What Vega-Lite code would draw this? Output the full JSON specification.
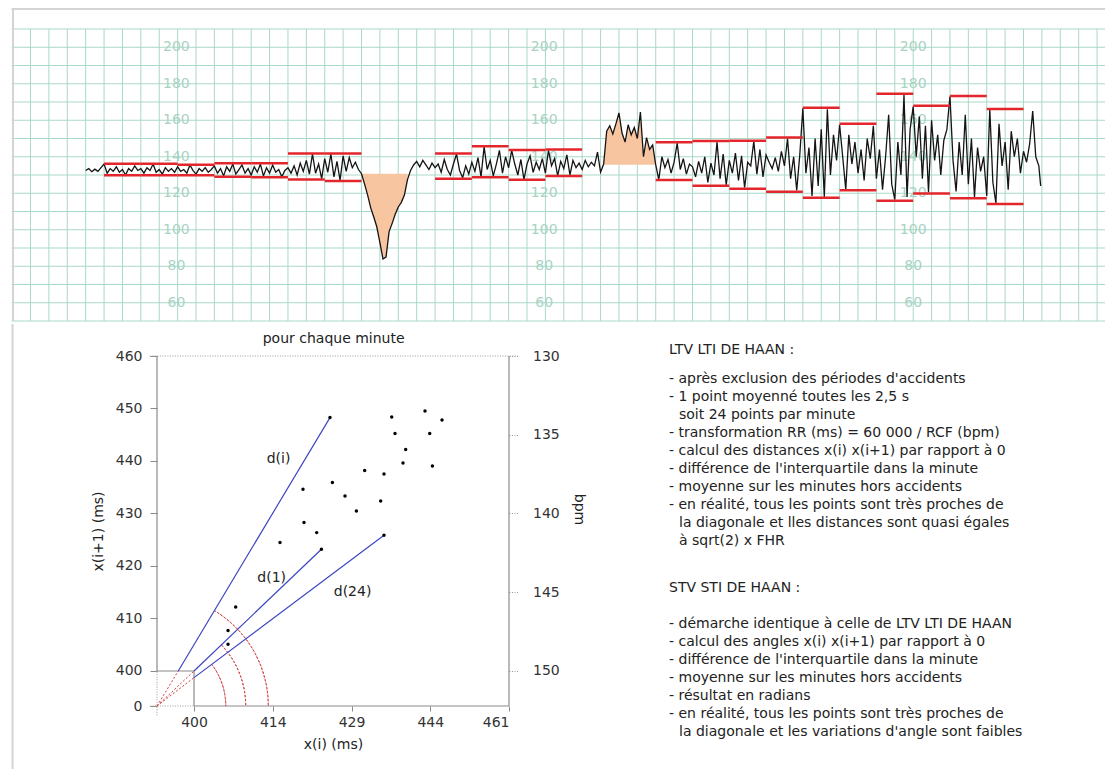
{
  "$schema": "https://vega.github.io/schema/vega-lite/v6.json",
  "background": "white",
  "padding": {"left": 10, "top": 7, "right": 0, "bottom": 0},
  "config": {
    "view": {"stroke": null},
    "text": {"font": "DejaVu Sans"},
    "axis": {"labelFont": "DejaVu Sans", "titleFont": "DejaVu Sans"}
  },
  "datasets": {
    "vgrid": [{"t":30},{"t":60},{"t":90},{"t":120},{"t":150},{"t":180},{"t":210},{"t":240},{"t":270},{"t":300},{"t":330},{"t":360},{"t":390},{"t":420},{"t":450},{"t":480},{"t":510},{"t":540},{"t":570},{"t":600},{"t":630},{"t":660},{"t":690},{"t":720},{"t":750},{"t":780},{"t":810},{"t":840},{"t":870},{"t":900},{"t":930},{"t":960},{"t":990},{"t":1020},{"t":1050},{"t":1080},{"t":1110},{"t":1140},{"t":1170},{"t":1200},{"t":1230},{"t":1260},{"t":1290},{"t":1320},{"t":1350},{"t":1380},{"t":1410},{"t":1440},{"t":1470},{"t":1500},{"t":1530},{"t":1560},{"t":1590},{"t":1620},{"t":1650},{"t":1680},{"t":1710},{"t":1740},{"t":1770}],
    "hgrid": [{"v":50},{"v":60},{"v":70},{"v":80},{"v":90},{"v":100},{"v":110},{"v":120},{"v":130},{"v":140},{"v":150},{"v":160},{"v":170},{"v":180},{"v":190},{"v":200},{"v":210}],
    "glabels": [
      {"t":268,"v":60},{"t":268,"v":80},{"t":268,"v":100},{"t":268,"v":120},{"t":268,"v":140},{"t":268,"v":160},{"t":268,"v":180},{"t":268,"v":200},
      {"t":868,"v":60},{"t":868,"v":80},{"t":868,"v":100},{"t":868,"v":120},{"t":868,"v":140},{"t":868,"v":160},{"t":868,"v":180},{"t":868,"v":200},
      {"t":1470,"v":60},{"t":1470,"v":80},{"t":1470,"v":100},{"t":1470,"v":120},{"t":1470,"v":140},{"t":1470,"v":160},{"t":1470,"v":180},{"t":1470,"v":200}
    ],
    "trace": [
      {"t":120,"v":132.5},{"t":125,"v":133.5},{"t":130,"v":131.8},{"t":135,"v":133.2},{"t":140,"v":132.0},{"t":145,"v":134.0},
      {"t":150,"v":136.0},{"t":155,"v":131.0},{"t":160,"v":133.5},{"t":165,"v":132.0},{"t":170,"v":134.5},{"t":175,"v":131.5},{"t":180,"v":133.0},{"t":185,"v":130.0},{"t":190,"v":133.5},{"t":195,"v":132.0},{"t":200,"v":135.0},{"t":205,"v":132.5},
      {"t":210,"v":133.5},{"t":215,"v":131.0},{"t":220,"v":134.0},{"t":225,"v":132.5},{"t":230,"v":136.0},{"t":235,"v":131.5},{"t":240,"v":133.0},{"t":245,"v":130.5},{"t":250,"v":134.0},{"t":255,"v":132.0},{"t":260,"v":133.5},{"t":265,"v":131.5},
      {"t":270,"v":134.5},{"t":275,"v":132.0},{"t":280,"v":133.0},{"t":285,"v":131.0},{"t":290,"v":135.5},{"t":295,"v":132.5},{"t":300,"v":130.5},{"t":305,"v":133.5},{"t":310,"v":132.0},{"t":315,"v":134.0},{"t":320,"v":131.5},{"t":325,"v":133.0},
      {"t":330,"v":135.0},{"t":335,"v":131.0},{"t":340,"v":133.5},{"t":345,"v":129.5},{"t":350,"v":134.5},{"t":355,"v":132.0},{"t":360,"v":136.0},{"t":365,"v":130.5},{"t":370,"v":133.0},{"t":375,"v":135.5},{"t":380,"v":131.0},{"t":385,"v":133.5},
      {"t":390,"v":130.0},{"t":395,"v":134.5},{"t":400,"v":131.5},{"t":405,"v":136.0},{"t":410,"v":129.5},{"t":415,"v":134.0},{"t":420,"v":131.0},{"t":425,"v":135.5},{"t":430,"v":131.5},{"t":435,"v":133.0},{"t":440,"v":129.0},{"t":445,"v":132.5},
      {"t":450,"v":134.0},{"t":455,"v":131.0},{"t":460,"v":135.0},{"t":465,"v":130.0},{"t":470,"v":136.5},{"t":475,"v":132.0},{"t":480,"v":138.0},{"t":485,"v":130.5},{"t":490,"v":141.5},{"t":495,"v":131.0},{"t":500,"v":136.0},{"t":505,"v":128.0},
      {"t":510,"v":139.0},{"t":515,"v":131.5},{"t":520,"v":141.5},{"t":525,"v":129.0},{"t":530,"v":137.5},{"t":535,"v":127.0},{"t":540,"v":140.5},{"t":545,"v":132.0},{"t":550,"v":139.5},{"t":555,"v":134.0},{"t":560,"v":137.0},{"t":565,"v":133.0},
      {"t":570,"v":130.7},{"t":575,"v":125.0},{"t":580,"v":119.0},{"t":585,"v":112.0},{"t":590,"v":107.0},{"t":595,"v":101.5},{"t":600,"v":93.0},{"t":605,"v":84.0},{"t":610,"v":85.0},{"t":615,"v":99.0},{"t":620,"v":103.5},{"t":625,"v":108.5},{"t":630,"v":112.5},{"t":635,"v":115.0},{"t":640,"v":119.0},{"t":645,"v":127.5},{"t":650,"v":132.5},{"t":655,"v":135.5},
      {"t":660,"v":137.5},{"t":665,"v":134.5},{"t":670,"v":138.0},{"t":675,"v":135.5},{"t":680,"v":133.0},{"t":685,"v":136.5},
      {"t":690,"v":134.0},{"t":695,"v":136.0},{"t":700,"v":131.5},{"t":705,"v":138.5},{"t":710,"v":133.0},{"t":715,"v":130.0},{"t":720,"v":136.0},{"t":725,"v":141.5},{"t":730,"v":132.5},{"t":735,"v":128.5},{"t":740,"v":135.0},{"t":745,"v":130.5},
      {"t":750,"v":137.0},{"t":755,"v":132.0},{"t":760,"v":139.5},{"t":765,"v":129.0},{"t":770,"v":145.5},{"t":775,"v":133.0},{"t":780,"v":138.0},{"t":785,"v":129.5},{"t":790,"v":136.0},{"t":795,"v":143.5},{"t":800,"v":131.0},{"t":805,"v":140.0},
      {"t":810,"v":134.0},{"t":815,"v":143.5},{"t":820,"v":136.0},{"t":825,"v":130.0},{"t":830,"v":138.5},{"t":835,"v":127.5},{"t":840,"v":136.0},{"t":845,"v":140.5},{"t":850,"v":131.5},{"t":855,"v":137.0},{"t":860,"v":133.0},{"t":865,"v":139.0},
      {"t":870,"v":131.0},{"t":875,"v":143.5},{"t":880,"v":135.0},{"t":885,"v":139.0},{"t":890,"v":129.5},{"t":895,"v":137.5},{"t":900,"v":133.5},{"t":905,"v":141.0},{"t":910,"v":130.0},{"t":915,"v":138.0},{"t":920,"v":134.0},{"t":925,"v":136.5},
      {"t":930,"v":133.0},{"t":935,"v":138.0},{"t":940,"v":134.5},{"t":945,"v":137.0},{"t":950,"v":135.0},{"t":955,"v":142.5},{"t":960,"v":131.5},{"t":965,"v":136.0},
      {"t":970,"v":154.0},{"t":975,"v":157.0},{"t":980,"v":152.5},{"t":985,"v":158.0},{"t":990,"v":164.0},{"t":995,"v":153.0},{"t":1000,"v":148.0},{"t":1005,"v":157.5},{"t":1010,"v":152.0},{"t":1015,"v":156.0},{"t":1020,"v":150.0},{"t":1025,"v":164.5},{"t":1030,"v":140.0},{"t":1035,"v":150.5},{"t":1040,"v":144.0},{"t":1045,"v":146.5},
      {"t":1050,"v":135.5},{"t":1055,"v":127.5},{"t":1060,"v":140.0},{"t":1065,"v":134.0},{"t":1070,"v":138.5},{"t":1075,"v":131.0},{"t":1080,"v":137.0},{"t":1085,"v":147.5},{"t":1090,"v":133.0},{"t":1095,"v":139.0},{"t":1100,"v":130.5},{"t":1105,"v":136.0},
      {"t":1110,"v":134.5},{"t":1115,"v":129.0},{"t":1120,"v":137.5},{"t":1125,"v":131.0},{"t":1130,"v":140.0},{"t":1135,"v":126.0},{"t":1140,"v":136.5},{"t":1145,"v":130.0},{"t":1150,"v":148.0},{"t":1155,"v":128.0},{"t":1160,"v":141.5},{"t":1165,"v":124.5},
      {"t":1170,"v":138.0},{"t":1175,"v":131.0},{"t":1180,"v":142.0},{"t":1185,"v":127.0},{"t":1190,"v":140.5},{"t":1195,"v":123.0},{"t":1200,"v":137.0},{"t":1205,"v":135.0},{"t":1210,"v":148.5},{"t":1215,"v":130.5},{"t":1220,"v":144.0},{"t":1225,"v":129.0},
      {"t":1230,"v":141.0},{"t":1235,"v":137.0},{"t":1240,"v":133.5},{"t":1245,"v":139.5},{"t":1250,"v":132.0},{"t":1255,"v":143.0},{"t":1260,"v":135.0},{"t":1265,"v":150.0},{"t":1270,"v":128.0},{"t":1275,"v":140.0},{"t":1280,"v":121.5},{"t":1285,"v":141.0},
      {"t":1290,"v":166.5},{"t":1295,"v":131.0},{"t":1300,"v":145.0},{"t":1305,"v":118.5},{"t":1310,"v":150.0},{"t":1315,"v":124.0},{"t":1320,"v":155.0},{"t":1325,"v":118.0},{"t":1330,"v":166.0},{"t":1335,"v":130.0},{"t":1340,"v":152.0},{"t":1345,"v":138.0},
      {"t":1350,"v":157.5},{"t":1355,"v":140.0},{"t":1360,"v":122.0},{"t":1365,"v":152.0},{"t":1370,"v":136.0},{"t":1375,"v":148.0},{"t":1380,"v":131.0},{"t":1385,"v":144.0},{"t":1390,"v":127.0},{"t":1395,"v":150.0},{"t":1400,"v":139.0},{"t":1405,"v":157.0},
      {"t":1410,"v":128.0},{"t":1415,"v":144.0},{"t":1420,"v":122.0},{"t":1425,"v":140.0},{"t":1430,"v":163.0},{"t":1435,"v":125.0},{"t":1440,"v":116.5},{"t":1445,"v":148.0},{"t":1450,"v":130.0},{"t":1455,"v":174.0},{"t":1460,"v":118.0},{"t":1465,"v":155.0},
      {"t":1470,"v":167.5},{"t":1475,"v":140.0},{"t":1480,"v":162.0},{"t":1485,"v":128.0},{"t":1490,"v":157.0},{"t":1495,"v":120.5},{"t":1500,"v":160.0},{"t":1505,"v":138.0},{"t":1510,"v":152.0},{"t":1515,"v":130.0},{"t":1520,"v":149.0},{"t":1525,"v":155.0},
      {"t":1530,"v":173.0},{"t":1535,"v":138.0},{"t":1540,"v":121.0},{"t":1545,"v":148.0},{"t":1550,"v":130.0},{"t":1555,"v":163.0},{"t":1560,"v":125.0},{"t":1565,"v":150.0},{"t":1570,"v":118.0},{"t":1575,"v":145.0},{"t":1580,"v":132.0},{"t":1585,"v":140.0},
      {"t":1590,"v":118.5},{"t":1595,"v":166.0},{"t":1600,"v":126.0},{"t":1605,"v":114.5},{"t":1610,"v":158.0},{"t":1615,"v":135.0},{"t":1620,"v":148.0},{"t":1625,"v":122.0},{"t":1630,"v":154.0},{"t":1635,"v":140.0},{"t":1640,"v":150.0},{"t":1645,"v":131.0},
      {"t":1650,"v":143.0},{"t":1655,"v":137.0},{"t":1660,"v":147.0},{"t":1665,"v":165.0},{"t":1670,"v":140.0},{"t":1675,"v":135.0},{"t":1678,"v":124.0}
    ],
    "minutes": [
      {"t0":150,"t1":210,"hi":136.2,"lo":129.8},{"t0":210,"t1":270,"hi":136.2,"lo":129.8},{"t0":270,"t1":330,"hi":135.6,"lo":129.8},{"t0":330,"t1":390,"hi":136.4,"lo":129.1},{"t0":390,"t1":450,"hi":136.4,"lo":128.7},{"t0":450,"t1":510,"hi":141.8,"lo":127.6},{"t0":510,"t1":570,"hi":141.8,"lo":126.7},
      {"t0":690,"t1":750,"hi":141.8,"lo":128.0},{"t0":750,"t1":810,"hi":145.7,"lo":128.7},{"t0":810,"t1":870,"hi":143.7,"lo":127.4},{"t0":870,"t1":930,"hi":144.0,"lo":129.4},
      {"t0":1050,"t1":1110,"hi":147.9,"lo":127.2},{"t0":1110,"t1":1170,"hi":148.6,"lo":124.1},{"t0":1170,"t1":1230,"hi":148.8,"lo":122.5},{"t0":1230,"t1":1290,"hi":150.6,"lo":120.8},{"t0":1290,"t1":1350,"hi":166.9,"lo":117.6},{"t0":1350,"t1":1410,"hi":158.1,"lo":121.6},{"t0":1410,"t1":1470,"hi":174.5,"lo":115.9},{"t0":1470,"t1":1530,"hi":168.0,"lo":119.9},{"t0":1530,"t1":1590,"hi":173.3,"lo":117.2},{"t0":1590,"t1":1650,"hi":166.2,"lo":114.1}
    ],
    "frame": [
      {"t0":-1,"t1":1786.2,"v0":220.96,"v1":220.96},
      {"t0":1.45,"t1":1.45,"v0":220.96,"v1":50}
    ],
    "points": [
      {"x":425.90,"y":448.27},{"x":437.66,"y":448.38},{"x":444.00,"y":449.52},{"x":447.24,"y":447.81},{"x":438.29,"y":445.22},{"x":444.90,"y":445.22},{"x":440.32,"y":442.17},{"x":439.81,"y":439.62},{"x":445.41,"y":439.05},{"x":432.51,"y":438.17},{"x":436.19,"y":437.52},{"x":426.36,"y":435.89},{"x":420.76,"y":434.61},{"x":428.76,"y":433.33},{"x":435.56,"y":432.38},{"x":430.93,"y":430.48},{"x":420.95,"y":428.27},{"x":423.37,"y":426.36},{"x":436.19,"y":425.85},{"x":416.38,"y":424.46},{"x":424.27,"y":423.18},{"x":407.94,"y":412.19},{"x":406.48,"y":407.70},{"x":406.48,"y":405.09}
    ],
    "dlines": [
      {"x":397.0,"y":400.0,"x2":425.90,"y2":448.27},
      {"x":400.0,"y":400.0,"x2":424.27,"y2":423.18},
      {"x":400.0,"y":398.74,"x2":436.19,"y2":425.85}
    ],
    "rays": [
      {"x":392.95,"y":393.333,"x2":397.0,"y2":400.0},
      {"x":392.95,"y":393.333,"x2":400.0,"y2":400.0},
      {"x":392.95,"y":393.333,"x2":400.0,"y2":398.74}
    ],
    "arcs": [
      {"x":392.95,"y":393.333,"r":13.1,"a0":0.925,"a1":1.5708},
      {"x":392.95,"y":393.333,"r":16.9,"a0":0.812,"a1":1.5708},
      {"x":392.95,"y":393.333,"r":21.2,"a0":0.541,"a1":1.5708}
    ],
    "solidAxes": [
      {"x":392.95,"y":400,"x2":392.95,"y2":460},
      {"x":392.95,"y":400,"x2":400,"y2":400},
      {"x":400,"y":393.333,"x2":400,"y2":400},
      {"x":400,"y":393.333,"x2":460,"y2":393.333},
      {"x":460,"y":393.333,"x2":460,"y2":460}
    ],
    "dottedAxes": [
      {"x":391.6,"y":460,"x2":461.7,"y2":460},
      {"x":392.95,"y":391.56,"x2":392.95,"y2":400},
      {"x":391.6,"y":393.333,"x2":400,"y2":393.333}
    ],
    "frame2": [{"x":365.43,"y":466.1,"x2":365.43,"y2":381.27}],
    "slabels": [
      {"x":416.1,"y":440.3,"label":"d(i)"},
      {"x":414.8,"y":417.7,"label":"d(1)"},
      {"x":430.2,"y":415.0,"label":"d(24)"},
      {"x":426.6,"y":463.2,"label":"pour chaque minute"}
    ],
    "notes": [
      {"col":0,"indent":false,"line":-1.63,"text":"LTV LTI DE HAAN :"},
      {"col":0,"indent":false,"line":0,"text":"- après exclusion des périodes d'accidents"},
      {"col":0,"indent":false,"line":1,"text":"- 1 point moyenné toutes les 2,5 s"},
      {"col":0,"indent":true,"line":2,"text":"soit 24 points par minute"},
      {"col":0,"indent":false,"line":3,"text":"- transformation RR (ms) = 60 000 / RCF (bpm)"},
      {"col":0,"indent":false,"line":4,"text":"- calcul des distances x(i) x(i+1) par rapport à 0"},
      {"col":0,"indent":false,"line":5,"text":"- différence de l'interquartile dans la minute"},
      {"col":0,"indent":false,"line":6,"text":"- moyenne sur les minutes hors accidents"},
      {"col":0,"indent":false,"line":7,"text":"- en réalité, tous les points sont très proches de"},
      {"col":0,"indent":true,"line":8,"text":"la diagonale et lles distances sont quasi égales"},
      {"col":0,"indent":true,"line":9,"text":"à sqrt(2) x FHR"},
      {"col":0,"indent":false,"line":11.58,"text":"STV STI DE HAAN :"},
      {"col":0,"indent":false,"line":13.58,"text":"- démarche identique à celle de LTV LTI DE HAAN"},
      {"col":0,"indent":false,"line":14.58,"text":"- calcul des angles x(i) x(i+1) par rapport à 0"},
      {"col":0,"indent":false,"line":15.58,"text":"- différence de l'interquartile dans la minute"},
      {"col":0,"indent":false,"line":16.58,"text":"- moyenne sur les minutes hors accidents"},
      {"col":0,"indent":false,"line":17.58,"text":"- résultat en radians"},
      {"col":0,"indent":false,"line":18.58,"text":"- en réalité, tous les points sont très proches de"},
      {"col":0,"indent":true,"line":19.58,"text":"la diagonale et les variations d'angle sont faibles"}
    ]
  },
  "spacing": 0,
  "vconcat": [
    {
      "width": 950,
      "height": 292,
      "layer": [
        {
          "data": {"name": "vgrid"},
          "mark": {"type": "rule", "color": "#a9d9c7", "strokeWidth": 1},
          "encoding": {
            "x": {"field": "t", "type": "quantitative", "scale": {"domain": [236.36, 1786.2], "nice": false, "zero": false}, "axis": null}
          }
        },
        {
          "data": {"name": "hgrid"},
          "mark": {"type": "rule", "color": "#a9d9c7", "strokeWidth": 1},
          "encoding": {
            "x": {"datum": -1, "type": "quantitative", "axis": null},
            "x2": {"datum": 1786.2},
            "y": {"field": "v", "type": "quantitative", "scale": {"domain": [50, 210], "nice": false, "zero": false}, "axis": null}
          }
        },
        {
          "data": {"name": "glabels"},
          "mark": {"type": "text", "fontSize": 14, "font": "DejaVu Sans", "color": "#a8d3c1", "align": "center", "baseline": "middle"},
          "encoding": {
            "x": {"field": "t", "type": "quantitative", "axis": null},
            "y": {"field": "v", "type": "quantitative", "axis": null},
            "text": {"field": "v", "type": "quantitative"}
          }
        },
        {
          "data": {"name": "trace"},
          "transform": [{"filter": "datum.t >= 570 && datum.t <= 647"}],
          "mark": {"type": "area", "color": "#f8c5a1", "opacity": 1},
          "encoding": {
            "x": {"field": "t", "type": "quantitative", "axis": null},
            "y": {"field": "v", "type": "quantitative", "axis": null},
            "y2": {"datum": 130.7}
          }
        },
        {
          "data": {"name": "trace"},
          "transform": [{"filter": "datum.t >= 965 && datum.t <= 1050"}],
          "mark": {"type": "area", "color": "#f8c5a1", "opacity": 1},
          "encoding": {
            "x": {"field": "t", "type": "quantitative", "axis": null},
            "y": {"field": "v", "type": "quantitative", "axis": null},
            "y2": {"datum": 135.6}
          }
        },
        {
          "data": {"name": "trace"},
          "mark": {"type": "line", "color": "#141414", "strokeWidth": 1.3},
          "encoding": {
            "x": {"field": "t", "type": "quantitative", "axis": null},
            "y": {"field": "v", "type": "quantitative", "axis": null}
          }
        },
        {
          "data": {"name": "minutes"},
          "mark": {"type": "rule", "color": "#e3262c", "strokeWidth": 2.5},
          "encoding": {
            "x": {"field": "t0", "type": "quantitative", "axis": null},
            "x2": {"field": "t1"},
            "y": {"field": "hi", "type": "quantitative", "axis": null}
          }
        },
        {
          "data": {"name": "minutes"},
          "mark": {"type": "rule", "color": "#e3262c", "strokeWidth": 2.5},
          "encoding": {
            "x": {"field": "t0", "type": "quantitative", "axis": null},
            "x2": {"field": "t1"},
            "y": {"field": "lo", "type": "quantitative", "axis": null}
          }
        },
        {
          "data": {"name": "frame"},
          "mark": {"type": "rule", "color": "#d4d4d4", "strokeWidth": 2},
          "encoding": {
            "x": {"field": "t0", "type": "quantitative", "axis": null},
            "x2": {"field": "t1"},
            "y": {"field": "v0", "type": "quantitative", "axis": null},
            "y2": {"field": "v1"}
          }
        }
      ]
    },
    {
      "spacing": 83,
      "hconcat": [
        {
          "width": 352,
          "height": 350,
          "resolve": {"axis": {"x": "independent", "y": "independent"}},
          "layer": [
            {
              "data": {"name": "frame2"},
              "mark": {"type": "rule", "color": "#d4d4d4", "strokeWidth": 2},
              "encoding": {
                "x": {"field": "x", "type": "quantitative", "axis": null},
                "x2": {"field": "x2"},
                "y": {"field": "y", "type": "quantitative", "axis": null},
                "y2": {"field": "y2"}
              }
            },
            {
              "data": {"name": "dottedAxes"},
              "mark": {"type": "rule", "color": "#999999", "strokeWidth": 1, "strokeDash": [1, 1.5]},
              "encoding": {
                "x": {"field": "x", "type": "quantitative", "axis": null},
                "x2": {"field": "x2"},
                "y": {"field": "y", "type": "quantitative", "axis": null},
                "y2": {"field": "y2"}
              }
            },
            {
              "data": {"name": "solidAxes"},
              "mark": {"type": "rule", "color": "#8a8a8a", "strokeWidth": 1.2},
              "encoding": {
                "x": {
                  "field": "x", "type": "quantitative",
                  "axis": {
                    "orient": "bottom",
                    "title": "x(i) (ms)", "values": [400, 415, 430, 445, 460],
                    "labelExpr": "datum.value == 415 ? '414' : datum.value == 430 ? '429' : datum.value == 445 ? '444' : datum.value == 460 ? '461' : '400'",
                    "domain": false, "grid": false, "ticks": true, "tickSize": 5, "tickColor": "#8a8a8a",
                    "labelPadding": 4, "titlePadding": 8, "labelFontSize": 14, "titleFontSize": 14,
                    "titleFontWeight": "normal", "labelColor": "#333333", "titleColor": "#222222"
                  }
                },
                "x2": {"field": "x2"},
                "y": {
                  "field": "y", "type": "quantitative",
                  "axis": {
                    "orient": "right", "title": "bpm", "values": [400, 415, 430, 445, 460],
                    "labelExpr": "format(150 - (datum.value - 400) / 3, 'd')",
                    "domain": false, "grid": false, "ticks": true, "tickSize": 10, "tickColor": "#999999", "tickDash": [1, 1.5],
                    "labelPadding": 13.5, "titlePadding": 12,
                    "labelFontSize": 14, "titleFontSize": 14, "titleFontWeight": "normal",
                    "labelColor": "#333333", "titleColor": "#222222", "titleY": 153
                  }
                },
                "y2": {"field": "y2"}
              }
            },
            {
              "data": {"name": "rays"},
              "mark": {"type": "rule", "color": "#d43a3a", "strokeWidth": 1, "strokeDash": [2, 2]},
              "encoding": {
                "x": {"field": "x", "type": "quantitative", "axis": null},
                "x2": {"field": "x2"},
                "y": {"field": "y", "type": "quantitative", "axis": null},
                "y2": {"field": "y2"}
              }
            },
            {
              "data": {"name": "arcs"},
              "mark": {"type": "arc", "filled": false, "color": "#d43a3a", "strokeWidth": 1, "strokeDash": [2, 2]},
              "encoding": {
                "x": {"field": "x", "type": "quantitative", "axis": null},
                "y": {"field": "y", "type": "quantitative", "axis": null},
                "theta": {"field": "a0", "type": "quantitative", "scale": null, "stack": null},
                "theta2": {"field": "a1"},
                "radius": {"field": "r", "type": "quantitative", "scale": {"type": "linear", "domain": [0, 66.667], "range": [0, 350], "zero": true, "nice": false}},
                "radius2": {"field": "r"}
              }
            },
            {
              "data": {"name": "dlines"},
              "mark": {"type": "rule", "color": "#3d45c2", "strokeWidth": 1.2},
              "encoding": {
                "x": {"field": "x", "type": "quantitative", "axis": null},
                "x2": {"field": "x2"},
                "y": {"field": "y", "type": "quantitative", "axis": null},
                "y2": {"field": "y2"}
              }
            },
            {
              "data": {"name": "points"},
              "mark": {"type": "circle", "size": 12, "color": "#000000", "opacity": 1},
              "encoding": {
                "x": {
                  "field": "x", "type": "quantitative",
                  "scale": {"domain": [392.95, 460], "nice": false, "zero": false},
                  "axis": null
                },
                "y": {
                  "field": "y", "type": "quantitative",
                  "scale": {"domain": [393.333, 460], "nice": false, "zero": false},
                  "axis": {
                    "orient": "left",
                    "title": "x(i+1) (ms)", "values": [393.333, 400, 410, 420, 430, 440, 450, 460],
                    "labelExpr": "datum.value < 395 ? '0' : format(datum.value, 'd')",
                    "domain": false, "grid": false, "ticks": true, "tickSize": 7, "tickColor": "#8a8a8a",
                    "labelPadding": 8, "titlePadding": 10, "labelFontSize": 14, "titleFontSize": 14,
                    "titleFontWeight": "normal", "labelColor": "#333333", "titleColor": "#222222"
                  }
                }
              }
            },
            {
              "data": {"name": "slabels"},
              "mark": {"type": "text", "fontSize": 14, "font": "DejaVu Sans", "color": "#222222", "align": "center", "baseline": "middle"},
              "encoding": {
                "x": {"field": "x", "type": "quantitative", "axis": null},
                "y": {"field": "y", "type": "quantitative", "axis": null},
                "text": {"field": "label", "type": "nominal"}
              }
            }
          ]
        },
        {
          "width": 437,
          "height": 414,
          "data": {"name": "notes"},
          "encoding": {
            "x": {"field": "col", "type": "quantitative", "scale": {"domain": [0, 1], "nice": false, "zero": false}, "axis": null},
            "y": {"field": "line", "type": "quantitative", "scale": {"domain": [-1.294, 21.706], "reverse": true, "nice": false, "zero": false}, "axis": null},
            "text": {"field": "text", "type": "nominal"}
          },
          "layer": [
            {
              "transform": [{"filter": "!datum.indent"}],
              "mark": {"type": "text", "align": "left", "baseline": "middle", "fontSize": 14, "font": "DejaVu Sans", "color": "#222222"}
            },
            {
              "transform": [{"filter": "datum.indent"}],
              "mark": {"type": "text", "align": "left", "baseline": "middle", "dx": 10, "fontSize": 14, "font": "DejaVu Sans", "color": "#222222"}
            }
          ]
        }
      ]
    }
  ]
}
